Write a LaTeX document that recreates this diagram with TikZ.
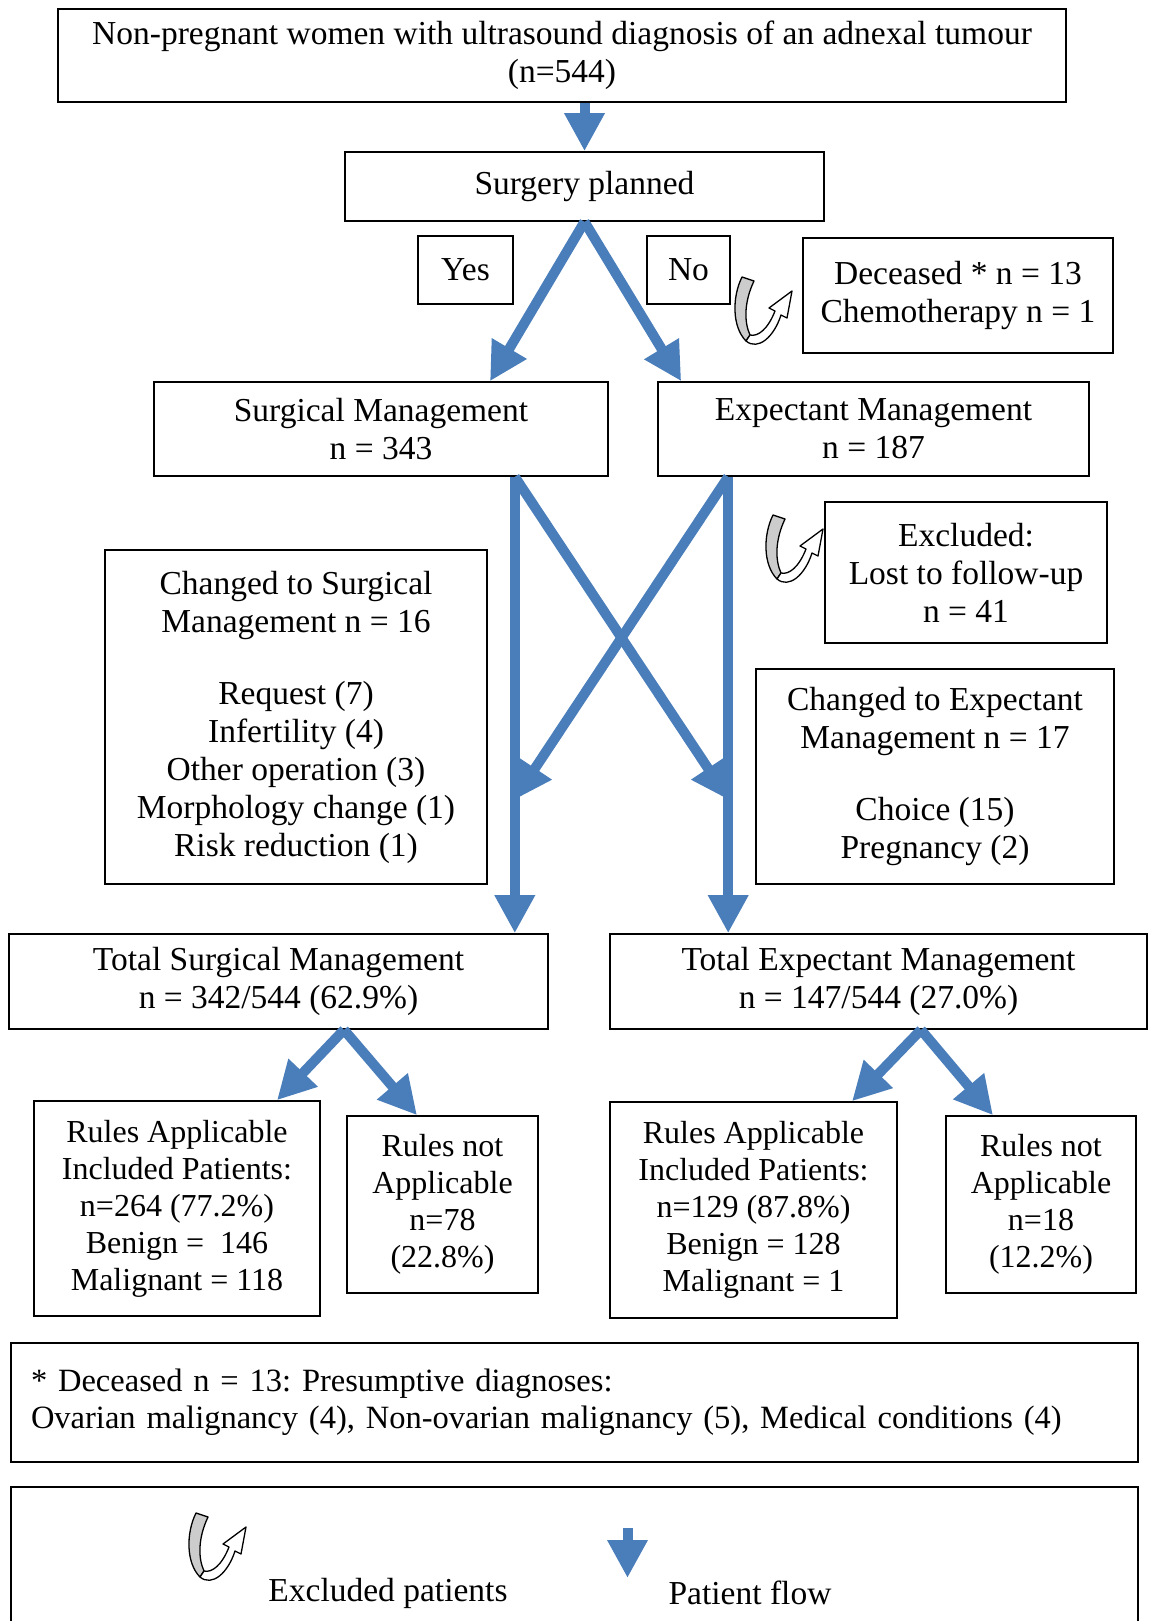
\documentclass[tikz,border=0pt]{standalone}
\usepackage{fontspec}
\setmainfont{Liberation Serif}
\usetikzlibrary{arrows.meta,positioning}
\frenchspacing

\definecolor{flowblue}{RGB}{74,126,187}
\newcommand{\mainsize}{\fontsize{33.5}{38}\selectfont}
\newcommand{\rulesize}{\fontsize{32}{37}\selectfont}
\newcommand{\notesize}{\fontsize{32.5}{37}\selectfont}

\tikzset{
  box/.style={draw, line width=1.6pt, align=center, inner sep=0pt, font=\mainsize},
  boxsize/.style 2 args={minimum width=#1pt, minimum height=#2pt},
  flow/.style={draw=flowblue, line width=10pt, -{Triangle[width=38pt,length=38pt]}},
  exclarrow/.pic={
    \filldraw[fill=black!20, line width=1.3pt, line join=round] (10,0) -- (22,4)
      .. controls (12,25) and (12,45) .. (18,58) -- (14,64)
      .. controls (0,50) and (0,20) .. (10,0) -- cycle;
    \filldraw[fill=white, line width=1.3pt, line join=round] (14,64)
      .. controls (26,74) and (42,60) .. (49,38) -- (55,41) -- (60,14) -- (37,31) -- (43,34)
      .. controls (36,52) and (26,60) .. (18,58) -- cycle;
  }
}

\begin{document}
\begin{tikzpicture}[x=1pt, y=-1pt]
\useasboundingbox (0,0) rectangle (1151,1621);

% boxes
\node[box, boxsize={1008}{93}] (women) at (562,55.5) {Non-pregnant women with ultrasound diagnosis of an adnexal tumour\\(n=544)};
\node[box, boxsize={479}{69}] (plan) at (584.5,186.5) {Surgery planned};
\node[box, boxsize={95}{68}] (yes) at (465.5,270) {Yes};
\node[box, boxsize={83}{68}] (no) at (688.5,270) {No};
\node[box, boxsize={310}{115}] (dec) at (958,295.5) {Deceased * n = 13\\Chemotherapy n = 1};

\node[box, boxsize={454}{94}] (surg) at (381,429) {Surgical Management\\n = 343};
\node[box, boxsize={431}{94}] (expt) at (873.5,429) {Expectant Management\\n = 187};
\node[box, boxsize={282}{141}] (excl) at (966,572.5) {Excluded:\\Lost to follow-up\\n = 41};

\node[box, boxsize={382}{334}] (tosurg) at (296,717) {Changed to Surgical\\Management n = 16\\[34pt]Request (7)\\Infertility (4)\\Other operation (3)\\Morphology change (1)\\Risk reduction (1)};
\node[box, boxsize={358}{215}] (toexp) at (935,776.5) {Changed to Expectant\\Management n = 17\\[34pt]Choice (15)\\Pregnancy (2)};

\node[box, boxsize={539}{95}] (totsurg) at (278.5,981.5) {Total Surgical Management\\n = 342/544 (62.9\%)};
\node[box, boxsize={537}{95}] (totexp) at (878.5,981.5) {Total Expectant Management\\n = 147/544 (27.0\%)};

% rules boxes
\node[box, font=\rulesize, boxsize={286}{215}] (ruleA) at (177,1208.5) {Rules Applicable\\Included Patients:\\n=264 (77.2\%)\\Benign =~ 146\\Malignant = 118};
\node[box, font=\rulesize, boxsize={191}{177}] (ruleN) at (442.5,1204.5) {Rules not\\Applicable\\n=78\\(22.8\%)};
\node[box, font=\rulesize, boxsize={287}{216}] (ruleB) at (753.5,1210) {Rules Applicable\\Included Patients:\\n=129 (87.8\%)\\Benign = 128\\Malignant = 1};
\node[box, font=\rulesize, boxsize={190}{177}] (ruleM) at (1041,1204.5) {Rules not\\Applicable\\n=18\\(12.2\%)};

% footnote
\node[box, font=\notesize, boxsize={1127}{119}, text width=1087pt, align=left, inner xsep=20pt] (foot) at (574.5,1402.5) {* Deceased n = 13: Presumptive diagnoses:\\Ovarian malignancy (4), Non-ovarian malignancy (5), Medical conditions (4)};

% patient flow
\draw[flow] (plan.north |- women.south) -- (plan.north);
\draw[flow] (plan.south) -- ([xshift=109pt]surg.north);
\draw[flow] (plan.south) -- ([xshift=24pt]expt.north west);

\coordinate (sdown) at ([xshift=-94pt]surg.south east);
\coordinate (edown) at ([xshift=71pt]expt.south west);
\coordinate (sturn) at (514,800);
\coordinate (eturn) at (729,800);
\draw[flow] (sdown) -- (sdown |- totsurg.north);
\draw[flow] (edown) -- (edown |- totexp.north);
\draw[flow] (sdown) -- (eturn);
\draw[flow] (edown) -- (sturn);

\coordinate (ssplit) at ([xshift=65.5pt]totsurg.south);
\coordinate (esplit) at ([xshift=42.5pt]totexp.south);
\draw[flow] (ssplit) -- ([xshift=100pt]ruleA.north);
\draw[flow] (ssplit) -- ([xshift=-25.5pt]ruleN.north);
\draw[flow] (esplit) -- ([xshift=98.5pt]ruleB.north);
\draw[flow] (esplit) -- ([xshift=-48pt]ruleM.north);

% excluded patients
\pic at (732,277) {exclarrow};
\pic at (763,515) {exclarrow};

% legend
\draw[line width=1.6pt] (11,1630) -- (11,1487) -- (1138,1487) -- (1138,1630);
\pic at (186,1513) {exclarrow};
\node[font=\mainsize] (legexcl) at (388,1593) {Excluded patients};
\draw[flow] (627.5,1528) -- (627.5,1578);
\node[font=\mainsize] (legflow) at (750,1593) {Patient flow};
\end{tikzpicture}
\end{document}
